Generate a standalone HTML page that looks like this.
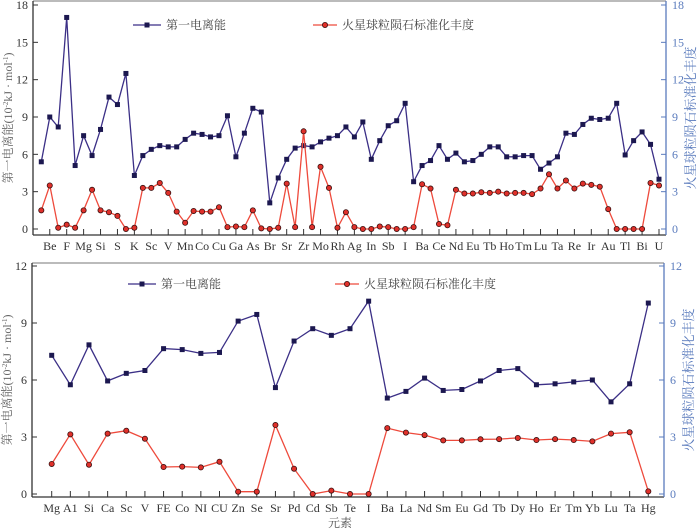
<!DOCTYPE html>
<html><head><meta charset="utf-8"><style>
body{margin:0;background:#fff}
svg{display:block;font-family:"Liberation Serif","Noto Serif CJK SC",serif}
</style></head><body>
<svg id="c" width="700" height="528" viewBox="0 0 700 528"></svg>
<script>
const topCats=["Li","Be","B","F","Na","Mg","Al","Si","P","S","Cl","K","Ca","Sc","Ti","V","Cr","Mn","Fe","Co","Ni","Cu","Zn","Ga","Ge","As","Se","Br","Rb","Sr","Y","Zr","Nb","Mo","Ru","Rh","Pd","Ag","Cd","In","Sn","Sb","Te","I","Cs","Ba","La","Ce","Pr","Nd","Sm","Eu","Gd","Tb","Dy","Ho","Er","Tm","Yb","Lu","Hf","Ta","W","Re","Os","Ir","Pt","Au","Hg","Tl","Pb","Bi","Th","U"];
const topIon=[5.4,9.0,8.2,17.0,5.1,7.5,5.9,8.0,10.6,10.0,12.5,4.3,5.9,6.4,6.7,6.6,6.6,7.2,7.7,7.6,7.4,7.5,9.1,5.8,7.7,9.7,9.4,2.1,4.1,5.6,6.5,6.7,6.6,7.0,7.3,7.5,8.2,7.4,8.6,5.6,7.1,8.3,8.7,10.1,3.8,5.1,5.5,6.7,5.6,6.1,5.4,5.5,6.0,6.6,6.6,5.8,5.8,5.9,5.9,4.8,5.3,5.8,7.7,7.6,8.4,8.9,8.8,8.9,10.1,5.95,7.1,7.8,6.8,4.0];
const topAbund=[1.5,3.5,0.1,0.35,0.1,1.5,3.15,1.5,1.35,1.05,0,0.1,3.3,3.3,3.7,2.9,1.4,0.5,1.45,1.4,1.4,1.75,0.15,0.2,0.15,1.5,0.05,0,0.1,3.65,0.15,7.85,0.15,5.0,3.3,0.1,1.35,0.15,0,0,0.2,0.15,0,0,0.15,3.6,3.25,0.4,0.3,3.15,2.85,2.85,2.95,2.9,3.0,2.85,2.9,2.9,2.8,3.25,4.4,3.25,3.9,3.25,3.65,3.55,3.4,1.6,0,0,0,0,3.7,3.5];
const topTicks=[0,3,6,9,12,15,18];
const botCats=["Mg","A1","Si","Ca","Sc","V","FE","Co","NI","CU","Zn","Se","Sr","Pd","Cd","Sb","Te","I","Ba","La","Nd","Sm","Eu","Gd","Tb","Dy","Ho","Er","Tm","Yb","Lu","Ta","Hg"];
const botIon=[7.3,5.75,7.85,5.95,6.35,6.5,7.65,7.6,7.4,7.45,9.1,9.45,5.6,8.05,8.7,8.35,8.7,10.15,5.05,5.4,6.1,5.45,5.5,5.95,6.5,6.6,5.75,5.8,5.9,6.0,4.85,5.8,10.05];
const botAbund=[1.58,3.14,1.54,3.18,3.33,2.91,1.42,1.44,1.40,1.7,0.12,0.12,3.63,1.33,0,0.18,0,0,3.47,3.23,3.1,2.82,2.82,2.88,2.89,2.95,2.84,2.89,2.84,2.77,3.18,3.25,0.14];
const botTicks=[0,3,6,9,12];

const NS="http://www.w3.org/2000/svg";
const svg=document.getElementById('c');
function el(t,a,p){const e=document.createElementNS(NS,t);for(const k in a)e.setAttribute(k,a[k]);(p||svg).appendChild(e);return e;}
const BLUE="#3b2f86",RED="#ee4a3c",AX="#5a7bbd";

function panel(o){
  const g=el('g',{});
  
  
  const n=o.cats.length;
  const xs=i=>o.x0+i*(o.x1-o.x0)/(n-1);
  const ys=v=>o.y0-(v/o.max)*(o.y0-o.yTop);
  el('line',{x1:o.L,y1:o.T,x2:o.R,y2:o.T,stroke:"#777","stroke-width":1},g);
  el('line',{x1:o.L,y1:o.T,x2:o.L,y2:o.B,stroke:"#333","stroke-width":1.3},g);
  el('line',{x1:o.L,y1:o.B,x2:o.R,y2:o.B,stroke:"#333","stroke-width":1.3},g);
  el('line',{x1:o.R,y1:o.T,x2:o.R,y2:o.B,stroke:AX,"stroke-width":1.3},g);
  o.ticks.forEach(t=>{
    const y=ys(t);
    el('line',{x1:o.L,y1:y,x2:o.L+5,y2:y,stroke:"#333"},g);
    el('line',{x1:o.R,y1:y,x2:o.R-5,y2:y,stroke:AX},g);
    const a=el('text',{x:o.L-5,y:y+4,"text-anchor":"end","font-size":12,fill:"#333"},g);a.textContent=t;
    
    
    const b=el('text',{x:o.R+6,y:y+4,"font-size":12,fill:AX},g);b.textContent=t;
    
    
  });
  o.cats.forEach((c,i)=>{
    if(i%o.step!==o.off)return;
    const x=xs(i);
    el('line',{x1:x,y1:o.B,x2:x,y2:o.B-6,stroke:"#333"},g);
    const t=el('text',{x:x,y:o.B+15,"text-anchor":"middle","font-size":12,fill:"#333"},g);t.textContent=c;
    
    
  });
  function series(vals,color,sq,name){
    const pts=vals.map((v,i)=>xs(i).toFixed(1)+","+ys(v).toFixed(1)).join(" ");
    const pl=el('polyline',{points:pts,fill:"none",stroke:color,"stroke-width":1.3},g);
    
    
    vals.forEach((v,i)=>{
      let m;
      if(sq)m=el('rect',{x:xs(i)-2.5,y:ys(v)-2.5,width:5,height:5,fill:"#1c1850"},g);
      else m=el('circle',{cx:xs(i),cy:ys(v),r:2.6,fill:"#e0302a",stroke:"#3a1010","stroke-width":0.8},g);
      
      
    });
  }
  series(o.ion,BLUE,true,'ionization-energy');
  series(o.ab,RED,false,'abundance');
  const ly=o.ly;
  el('line',{x1:o.lx1,y1:ly,x2:o.lx1+28,y2:ly,stroke:BLUE,"stroke-width":1.3},g);
  el('rect',{x:o.lx1+11.5,y:ly-2.5,width:5,height:5,fill:"#1c1850"},g);
  const t1=el('text',{x:o.lx1+33,y:ly+4,"font-size":12,fill:"#444"},g);t1.textContent="第一电离能";
  
  
  el('line',{x1:o.lx2,y1:ly,x2:o.lx2+24,y2:ly,stroke:RED,"stroke-width":1.3},g);
  el('circle',{cx:o.lx2+12,cy:ly,r:2.6,fill:"#e0302a",stroke:"#3a1010","stroke-width":0.8},g);
  const t2=el('text',{x:o.lx2+29,y:ly+4,"font-size":12,fill:"#444"},g);t2.textContent="火星球粒陨石标准化丰度";
  
  
  const cy=(o.T+o.B)/2;
  const lt=el('text',{transform:`translate(${o.L-21},${cy}) rotate(-90)`,"text-anchor":"middle","font-size":12,fill:"#666"},g);
  lt.innerHTML='第一电离能(10<tspan font-size="7" dy="-4">-2</tspan><tspan dy="4">kJ · mol</tspan><tspan font-size="7" dy="-4">-1</tspan><tspan dy="4">)</tspan>';
  
  
  const rt=el('text',{transform:`translate(${o.R+29},${cy}) rotate(-90)`,"text-anchor":"middle","font-size":13,fill:AX},g);
  rt.textContent="火星球粒陨石标准化丰度";
  
  
}
panel({name:'top-panel',cats:topCats,ion:topIon,ab:topAbund,ticks:topTicks,max:18,L:33,R:666,T:1,B:235,x0:41.3,x1:659,y0:229,yTop:5,step:2,off:1,ly:25,lx1:133,lx2:313});
panel({name:'bottom-panel',cats:botCats,ion:botIon,ab:botAbund,ticks:botTicks,max:12,L:32,R:664,T:263,B:497,x0:51.7,x1:648.3,y0:494,yTop:266,step:1,off:0,ly:284,lx1:128,lx2:335});
const xt=el('text',{x:340,y:527,"text-anchor":"middle","font-size":12,fill:"#555"});
xt.textContent="元素";


</script>
</body></html>
